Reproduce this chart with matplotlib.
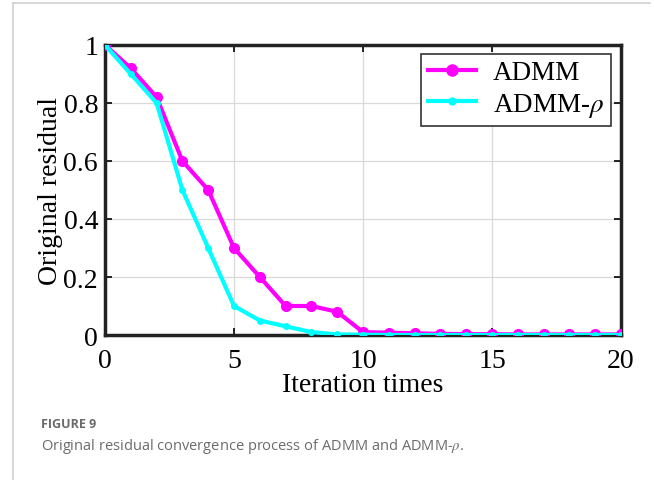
import numpy as np
import matplotlib.pyplot as plt
from matplotlib.lines import Line2D

# Values
iterations = np.arange(0, 21)
admm = [1.0, 0.92, 0.82, 0.60, 0.50, 0.30, 0.20, 0.10, 0.10, 0.08, 0.01,
        0.008, 0.006, 0.004, 0.003, 0.003, 0.002, 0.002, 0.002, 0.002, 0.002]
admm_rho = [1.0, 0.90, 0.80, 0.50, 0.30, 0.10, 0.05, 0.03, 0.01, 0.002, 0.001,
            0.0, 0.0, 0.0, 0.0, 0.0, 0.0, 0.0, 0.0, 0.0, 0.0]
series_names = ['ADMM', r'ADMM-$\rho$']
x_ticks = [0, 5, 10, 15, 20]
y_ticks = [0, 0.2, 0.4, 0.6, 0.8, 1]
y_tick_labels = ['0', '0.2', '0.4', '0.6', '0.8', '1']

plt.rcParams['font.family'] = ['Liberation Serif', 'DejaVu Serif']
plt.rcParams['mathtext.fontset'] = 'stix'

fig = plt.figure(figsize=(6.54, 4.81), dpi=100)
W, H = 654, 481
ax = fig.add_axes([105 / W, 1 - 336 / H, (621 - 105) / W, (336 - 46) / H])

ax.plot(iterations, admm, color='#ff00ff', lw=3, marker='o', ms=7, zorder=3)
ax.plot(iterations, admm_rho, color='#00ffff', lw=3, marker='o', ms=4,
        markeredgewidth=1, zorder=4)

ax.set_xlim(0, 20)
ax.set_ylim(0, 1)
ax.set_xticks(x_ticks)
ax.set_yticks(y_ticks)
ax.set_yticklabels(y_tick_labels)
ax.grid(True, color='#d9d9d9', lw=0.9)
ax.set_axisbelow(True)
for s in ax.spines.values():
    s.set_linewidth(2.5)
    s.set_color('#222222')
ax.tick_params(direction='in', length=5, width=1.2, labelsize=20,
               top=True, right=True)
ax.tick_params(axis='x', pad=9)
ax.tick_params(axis='y', pad=5)
ax.set_xlabel('Iteration times', fontsize=20, labelpad=0)
ax.set_ylabel('Original residual', fontsize=20, labelpad=0)

handles = [Line2D([], [], color='#ff00ff', lw=3, marker='o', ms=8),
           Line2D([], [], color='#00ffff', lw=3, marker='o', ms=5)]
leg = ax.legend(handles, series_names, loc='upper right', fontsize=19.5,
                bbox_to_anchor=(0.98, 0.97), fancybox=False, framealpha=1,
                edgecolor='#333333', handlelength=1.8, handletextpad=0.6,
                borderpad=0.25, labelspacing=0.2, borderaxespad=0)
leg.get_frame().set_linewidth(1.2)

# page frame lines
fig.add_artist(Line2D([13 / W, 13 / W], [0, 1 - 4 / H], color='#d0d0d0', lw=1.2))
fig.add_artist(Line2D([13 / W, 650 / W], [1 - 4 / H, 1 - 4 / H], color='#d0d0d0', lw=1.2))

fig.text(41 / W, 1 - 424 / H, 'FIGURE 9', fontsize=9, color='#6b6b6b',
         family=['Open Sans', 'DejaVu Sans'], fontweight='bold', va='center')
fig.text(41 / W, 1 - 446 / H,
         r'Original residual convergence process of ADMM and ADMM-$\rho$.',
         fontsize=10.5, color='#6b6b6b', family=['Open Sans', 'DejaVu Sans'],
         va='center')

fig.savefig('out.png', dpi=100)
